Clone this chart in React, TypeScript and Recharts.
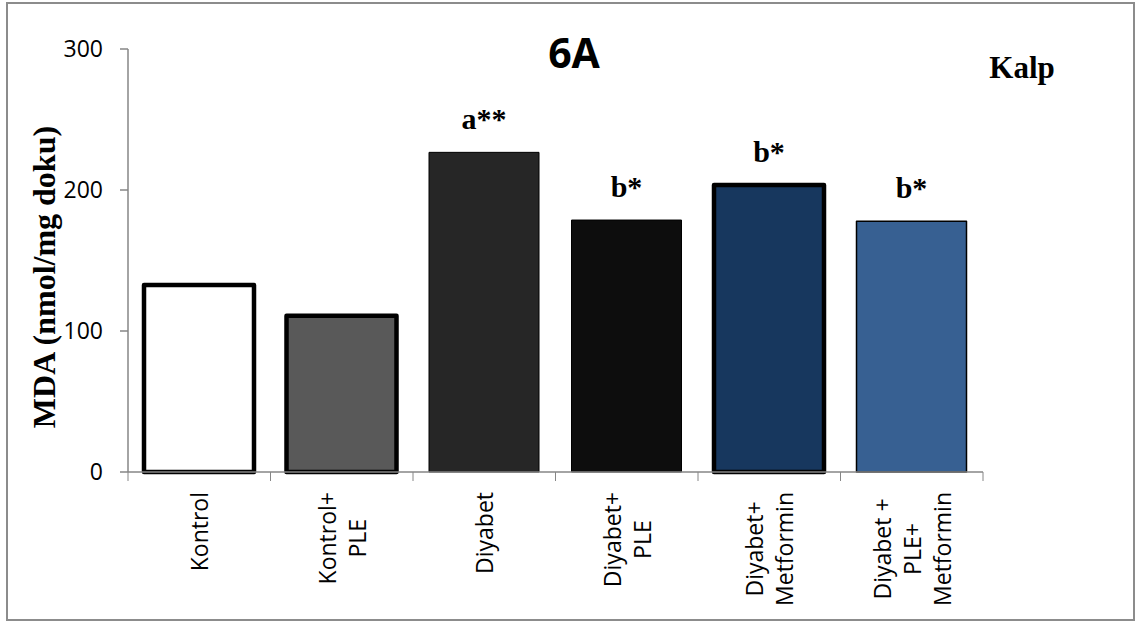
import React from 'react';
import { BarChart, Bar, XAxis, YAxis, Cell, LabelList } from 'recharts';

// ---- data ----
const categories = [
  'Kontrol',
  'Kontrol+\nPLE',
  'Diyabet',
  'Diyabet+\nPLE',
  'Diyabet+\nMetformin',
  'Diyabet +\nPLE+\nMetformin',
];
const mdaValues = [132.6, 110.8, 226.7, 178.7, 203.5, 177.9];
const significance = ['', '', 'a**', 'b*', 'b*', 'b*'];
const yTicks = [0, 100, 200, 300];
const chartTitle = '6A';
const tissueLabel = 'Kalp';
const yAxisTitle = 'MDA (nmol/mg doku)';

const data = categories.map((c, i) => ({ name: c, mda: mdaValues[i], sig: significance[i] }));

// ---- layout / style ----
const W = 1139;
const H = 624;
const M = { top: 49, right: 156, bottom: 12, left: 68 };
const YW = 60;
const XH = 140;
const plotW = W - M.left - YW - M.right;
const band = plotW / categories.length;

const fills = ['#ffffff', '#595959', '#262626', '#0d0d0d', '#17375e', '#376092'];
const strokeWs = [4.5, 4.5, 1, 1, 4.5, 1.5];
const AXIS = '#868686';
const SANS = '"Open Sans", "DejaVu Sans", sans-serif';
const SERIF = '"Liberation Serif", "Times New Roman", serif';
const TICK_FS = 23;

let ctx: CanvasRenderingContext2D | null = null;
function measure(s: string): number {
  try {
    if (!ctx) ctx = document.createElement('canvas').getContext('2d');
    if (ctx) {
      ctx.font = `${TICK_FS}px "Open Sans"`;
      return ctx.measureText(s).width;
    }
  } catch (e) {}
  return s.length * TICK_FS * 0.55;
}

function XTick(props: any) {
  const { x, y, payload, index } = props;
  const lines = String(payload.value).split('\n');
  const n = lines.length;
  const lh = 30;
  const maxLen = Math.max(...lines.map(measure));
  const cy = y + 20 + maxLen / 2;
  return (
    <g>
      <line x1={x - band / 2} x2={x - band / 2} y1={y} y2={y + 9} stroke={AXIS} />
      {index === categories.length - 1 && (
        <line x1={x + band / 2} x2={x + band / 2} y1={y} y2={y + 9} stroke={AXIS} />
      )}
      {lines.map((ln, i) => {
        const lx = x + (i - (n - 1) / 2) * lh + 9;
        return (
          <text
            key={i}
            transform={`translate(${lx},${cy}) rotate(-90)`}
            textAnchor="middle"
            fontFamily={SANS}
            fontSize={TICK_FS}
            fill="#000"
          >
            {ln}
          </text>
        );
      })}
    </g>
  );
}

function SigLabel(props: any) {
  const { x, y, width, value } = props;
  if (!value) return null;
  return (
    <text
      x={Number(x) + Number(width) / 2}
      y={Number(y) - 23}
      textAnchor="middle"
      fontFamily={SERIF}
      fontWeight="bold"
      fontSize={30}
      fill="#000"
    >
      {value}
    </text>
  );
}

export default function App() {
  return (
    <div style={{ position: 'absolute', left: 0, top: 0, width: W, height: H, background: '#fff' }}>
      <div
        style={{
          position: 'absolute',
          left: 6,
          top: 2,
          width: 1129,
          height: 619,
          border: '2px solid #8c8c8c',
          boxSizing: 'border-box',
        }}
      />
      <div style={{ position: 'absolute', left: 0, top: 0 }}>
        <BarChart width={W} height={H} data={data} margin={M}>
          <YAxis
            width={YW}
            domain={[0, 300]}
            ticks={yTicks}
            interval={0}
            axisLine={{ stroke: AXIS, strokeWidth: 1.5 }}
            tickLine={{ stroke: AXIS, strokeWidth: 1.5 }}
            tickSize={8}
            tickMargin={17}
            tick={{ fill: '#000', fontSize: TICK_FS, fontFamily: SANS }}
          />
          <XAxis
            dataKey="name"
            height={XH}
            interval={0}
            axisLine={{ stroke: AXIS, strokeWidth: 1.5 }}
            tickLine={false}
            tickSize={0}
            tickMargin={0}
            tick={<XTick />}
          />
          <Bar dataKey="mda" barSize={110} isAnimationActive={false}>
            {data.map((d, i) => (
              <Cell
                key={d.name}
                fill={fills[i]}
                stroke="#000"
                strokeWidth={strokeWs[i]}
                strokeLinejoin="round"
              />
            ))}
            <LabelList dataKey="sig" content={<SigLabel />} />
          </Bar>
        </BarChart>
      </div>
      <svg
        width={W}
        height={H}
        style={{ position: 'absolute', left: 0, top: 0, pointerEvents: 'none' }}
      >
        <text x={574} y={68} textAnchor="middle" fontFamily={SANS} fontWeight="bold" fontSize={41} fill="#000">
          {chartTitle}
        </text>
        <text x={1022} y={78} textAnchor="middle" fontFamily={SERIF} fontWeight="bold" fontSize={31} fill="#000">
          {tissueLabel}
        </text>
        <text
          transform="translate(55,277) rotate(-90)"
          textAnchor="middle"
          fontFamily={SERIF}
          fontWeight="bold"
          fontSize={32}
          fill="#000"
        >
          {yAxisTitle}
        </text>
      </svg>
    </div>
  );
}
